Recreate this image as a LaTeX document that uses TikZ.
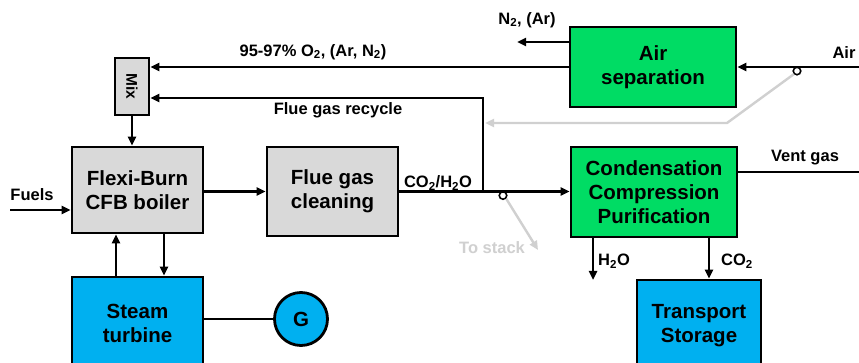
\documentclass[tikz,border=0pt]{standalone}
\usepackage{fontspec}
\setmainfont{Liberation Sans}
\usetikzlibrary{arrows.meta}
\definecolor{boxgrey}{HTML}{D9D9D9}
\definecolor{boxgreen}{HTML}{00DC64}
\definecolor{boxblue}{HTML}{00B0F0}
\definecolor{faint}{HTML}{D0D0D0}
\tikzset{
  box/.style={draw=black, line width=2.8pt, align=center, font=\fontsize{20.5}{24}\selectfont\bfseries, inner sep=0pt},
  lbl/.style={font=\fontsize{16.5}{19}\selectfont\bfseries, inner sep=0pt},
  conn/.style={line width=2.9pt},
  arr/.style={conn, -{Triangle[length=9pt,width=8pt]}},
  greyarr/.style={line width=2.4pt, faint, -{Triangle[length=9pt,width=8pt]}},
  valve/.style={circle, draw=black, fill=white, line width=1.6pt, minimum size=7.5pt, inner sep=0pt},
}
\begin{document}
\begin{tikzpicture}[x=1pt,y=-1pt]
\clip (0,0) rectangle (859,363);
\fill[white] (0,0) rectangle (859,363);
% boxes
\node[box, fill=boxgrey, minimum width=34, minimum height=57] (mix) at (132,86.5) {};
\node[font=\fontsize{15.5}{18}\selectfont\bfseries, rotate=-90] (mixt) at (mix.center) {Mix};
\node[box, fill=boxgreen, minimum width=166, minimum height=80] (air) at (653,67) {Air\\separation};
\node[box, fill=boxgrey, minimum width=131, minimum height=86] (boiler) at (137.5,190) {Flexi-Burn\\CFB boiler};
\node[box, fill=boxgrey, minimum width=131, minimum height=89] (fgc) at (332.5,191.5) {Flue gas\\cleaning};
\node[box, fill=boxgreen, minimum width=166, minimum height=90] (cond) at (654,192) {Condensation\\Compression\\Purification};
\node[box, fill=boxblue, minimum width=124, minimum height=92] (trans) at (699,326) {Transport\\Storage};
\node[box, fill=boxblue, minimum width=131, minimum height=93] (turb) at (137.5,323.5) {Steam\\turbine};
\node[box, fill=boxblue, circle, minimum size=53] (G) at (301,319) {G};
% coordinates
\coordinate (n2b) at (517,42);
\coordinate (ain) at (859,67);
\coordinate (j1) at (483,191.5);
\coordinate (r1) at (483,98);
\coordinate (fu) at (10,210);
\coordinate (vent) at (859,172);
\coordinate (h2o) at (593,280);
\coordinate (c2) at (709,0);
\coordinate (u1) at (116,0);
\coordinate (d1) at (164,0);
\coordinate (g1) at (727,123);
\coordinate (g2) at (485,123);
\coordinate (ts) at (538,250);
% valves and grey lines
\node[valve] (v1) at (797,71) {};
\node[valve] (v2) at (503,195.5) {};
\draw[greyarr] (v1.south west) -- (g1) -- (g2);
\draw[greyarr] (v2.south east) -- (ts);
% connectors
\draw[arr] (air.west) -- (air.west -| mix.east);
\draw[arr] (air.west |- n2b) -- (n2b);
\draw[arr] (ain) -- (air.east);
\draw[arr] (j1) -- (r1) -- (r1 -| mix.east);
\draw[arr] (mix.south) -- (mix.south |- boiler.north);
\draw[arr] (fu) -- (fu -| boiler.west);
\draw[arr] (boiler.east |- fgc.west) -- (fgc.west);
\draw[arr] (fgc.east) -- (fgc.east -| cond.west);
\draw[conn] (vent -| cond.east) -- (vent);
\draw[arr] (h2o |- cond.south) -- (h2o);
\draw[arr] (c2 |- cond.south) -- (c2 |- trans.north);
\draw[arr] (u1 |- turb.north) -- (u1 |- boiler.south);
\draw[arr] (d1 |- boiler.south) -- (d1 |- turb.north);
\draw[conn] (G.west -| turb.east) -- (G.west);
% labels
\node[lbl] (lo2) at (313,52) {95-97\% O\textsubscript{2}, (Ar, N\textsubscript{2})};
\node[lbl] (ln2) at (527,20) {N\textsubscript{2}, (Ar)};
\node[lbl] (lrec) at (338,110) {Flue gas recycle};
\node[lbl] (lair) at (844,53) {Air};
\node[lbl] (lfu) at (32,195) {Fuels};
\node[lbl] (lco) at (438,183) {CO\textsubscript{2}/H\textsubscript{2}O};
\node[lbl, text=faint] (lts) at (492,248) {To stack};
\node[lbl] (lvent) at (805,158) {Vent gas};
\node[lbl] (lh2o) at (614,261) {H\textsubscript{2}O};
\node[lbl] (lco2) at (737,261) {CO\textsubscript{2}};
\end{tikzpicture}
\end{document}
